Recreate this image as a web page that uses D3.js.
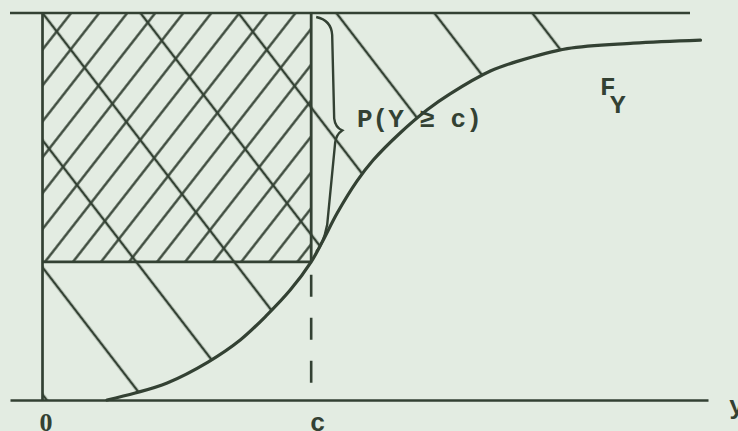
<!DOCTYPE html>
<html>
<head>
<meta charset="utf-8">
<script src="https://cdn.jsdelivr.net/npm/d3@7"></script>
<style>
  html, body { margin: 0; padding: 0; background: #e3ece2; }
  svg { display: block; }
</style>
</head>
<body>
<svg id="chart" width="738" height="431"></svg>
<script>
// Distribution function F_Y of a non-negative variable Y, sampled at y values
const curveY = [0.240, 0.345, 0.464, 0.616, 0.736, 0.836, 0.922, 1.000, 1.041, 1.097,
                1.171, 1.231, 1.331, 1.432, 1.517, 1.667, 1.767, 1.953, 2.199, 2.449];
const curveF = [0.000, 0.018, 0.044, 0.098, 0.155, 0.220, 0.284, 0.357, 0.408, 0.483,
                0.566, 0.620, 0.690, 0.750, 0.791, 0.850, 0.875, 0.908, 0.922, 0.930];

// The threshold c and the value of F_Y there
const cValue = 1;
const Fc = 0.357;

// Labels on the y axis
const tickValues = [0, cValue];
const tickLabels = ["0", "c"];

const ink = "#334133";
const mono = "'Liberation Mono', 'DejaVu Sans Mono', monospace";

const x = d3.scaleLinear().domain([-0.121, 2.477]).range([10, 708]);
const y = d3.scaleLinear().domain([0, 1]).range([400, 13]);

const svg = d3.select("#chart");
const defs = svg.append("defs");

// Hatching: a tile with one line, rotated and anchored at a point
function hatch(id, spacing, angle, ax, ay, width) {
  const p = defs.append("pattern")
    .attr("id", id)
    .attr("patternUnits", "userSpaceOnUse")
    .attr("width", spacing)
    .attr("height", 20)
    .attr("patternTransform", `translate(${ax},${ay}) rotate(${angle}) translate(${-spacing / 2},0)`);
  p.append("line")
    .attr("x1", spacing / 2).attr("x2", spacing / 2)
    .attr("y1", -1).attr("y2", 21)
    .attr("stroke", ink).attr("stroke-width", width);
}

const pts = curveY.map((v, i) => [v, curveF[i]]);
const line = d3.line().x(d => x(d[0])).y(d => y(d[1])).curve(d3.curveCatmullRom.alpha(0.5));
const curvePath = line(pts);

// Region above F_Y (its area is E[Y]) used to clip the wide hatching
const last = pts[pts.length - 1];
defs.append("clipPath").attr("id", "above")
  .append("path")
  .attr("d", curvePath +
    `L${x(last[0])},${y(1)}L${x(0)},${y(1)}L${x(0)},${y(0)}L${x(pts[0][0])},${y(0)}Z`);

// Wide "\" hatching over the region above the curve
hatch("wide", 77.6, -37.6, x(0), y(1), 2.5);
// Dense "/" hatching on the rectangle [0, c] x [F(c), 1]
hatch("dense", 22.1, 38, x(0) + 30.5, y(Fc), 2.3);

const hatchEnd = 2.075;
svg.append("rect")
  .attr("x", x(0)).attr("y", y(1))
  .attr("width", x(hatchEnd) - x(0)).attr("height", y(0) - y(1))
  .attr("fill", "url(#wide)")
  .attr("clip-path", "url(#above)");

svg.append("rect")
  .attr("x", x(0)).attr("y", y(1))
  .attr("width", x(cValue) - x(0)).attr("height", y(Fc) - y(1))
  .attr("fill", "url(#dense)");

// Horizontal line at F = 1
const topEnd = 2.41;
svg.append("line")
  .attr("x1", x(x.domain()[0])).attr("x2", x(topEnd))
  .attr("y1", y(1)).attr("y2", y(1))
  .attr("stroke", ink).attr("stroke-width", 2.4);

// Vertical axis at y = 0
svg.append("line")
  .attr("x1", x(0)).attr("x2", x(0))
  .attr("y1", y(0)).attr("y2", y(1))
  .attr("stroke", ink).attr("stroke-width", 2.7);

// Rectangle edges: F = F(c) and y = c
svg.append("line")
  .attr("x1", x(0)).attr("x2", x(cValue))
  .attr("y1", y(Fc)).attr("y2", y(Fc))
  .attr("stroke", ink).attr("stroke-width", 2.6);
svg.append("line")
  .attr("x1", x(cValue)).attr("x2", x(cValue))
  .attr("y1", y(1)).attr("y2", y(Fc))
  .attr("stroke", ink).attr("stroke-width", 2.8);
svg.append("line")
  .attr("x1", x(cValue)).attr("x2", x(cValue))
  .attr("y1", y(Fc) + 13).attr("y2", y(0))
  .attr("stroke", ink).attr("stroke-width", 2.6)
  .attr("stroke-dasharray", "22 21");

// Horizontal axis with its two labels
const axis = d3.axisBottom(x)
  .tickValues(tickValues)
  .tickFormat((d, i) => tickLabels[i])
  .tickSizeInner(0).tickSizeOuter(0).tickPadding(0);
const gAxis = svg.append("g").attr("transform", `translate(0,${y(0)})`).call(axis);
gAxis.select(".domain").attr("stroke", ink).attr("stroke-width", 2.6);
gAxis.selectAll(".tick line").remove();
gAxis.selectAll(".tick text")
  .style("font-family", (d, i) => i === 0 ? "'Liberation Serif', serif" : mono)
  .style("font-weight", "bold")
  .style("font-size", "26px")
  .style("fill", ink)
  .attr("dy", null)
  .attr("y", 31)
  .attr("dx", (d, i) => i === 0 ? 3 : 6);

// Text in the typewriter face
function label(tx, ty, s) {
  return svg.append("text").attr("x", tx).attr("y", ty)
    .style("font-family", mono).style("font-size", "26px")
    .style("font-weight", "bold").style("fill", ink).text(s);
}

label(729, 414, "y");

// The distribution function
svg.append("path")
  .attr("d", curvePath)
  .attr("fill", "none").attr("stroke", ink).attr("stroke-width", 3.2)
  .attr("stroke-linecap", "round");

// Brace spanning 1 - F(c)
const bx = x(cValue), bt = y(1), bb = y(Fc);
const bm = (bt + bb) / 2 - 7;
svg.append("path")
  .attr("d", `M${bx + 5},${bt + 4} Q${bx + 20},${bt + 7} ${bx + 21},${bt + 22}` +
             ` L${bx + 23},${bm - 12} Q${bx + 24},${bm - 3} ${bx + 31},${bm}` +
             ` Q${bx + 25},${bm + 4} ${bx + 24},${bm + 12}` +
             ` L${bx + 16},${bb - 37} Q${bx + 12},${bb - 17} ${bx + 5},${bb - 10}`)
  .attr("fill", "none").attr("stroke", ink).attr("stroke-width", 2.4);

label(357, 127, "P(Y \u2265 c)");
label(600, 95, "F");
label(610, 113, "Y");
</script>
</body>
</html>
